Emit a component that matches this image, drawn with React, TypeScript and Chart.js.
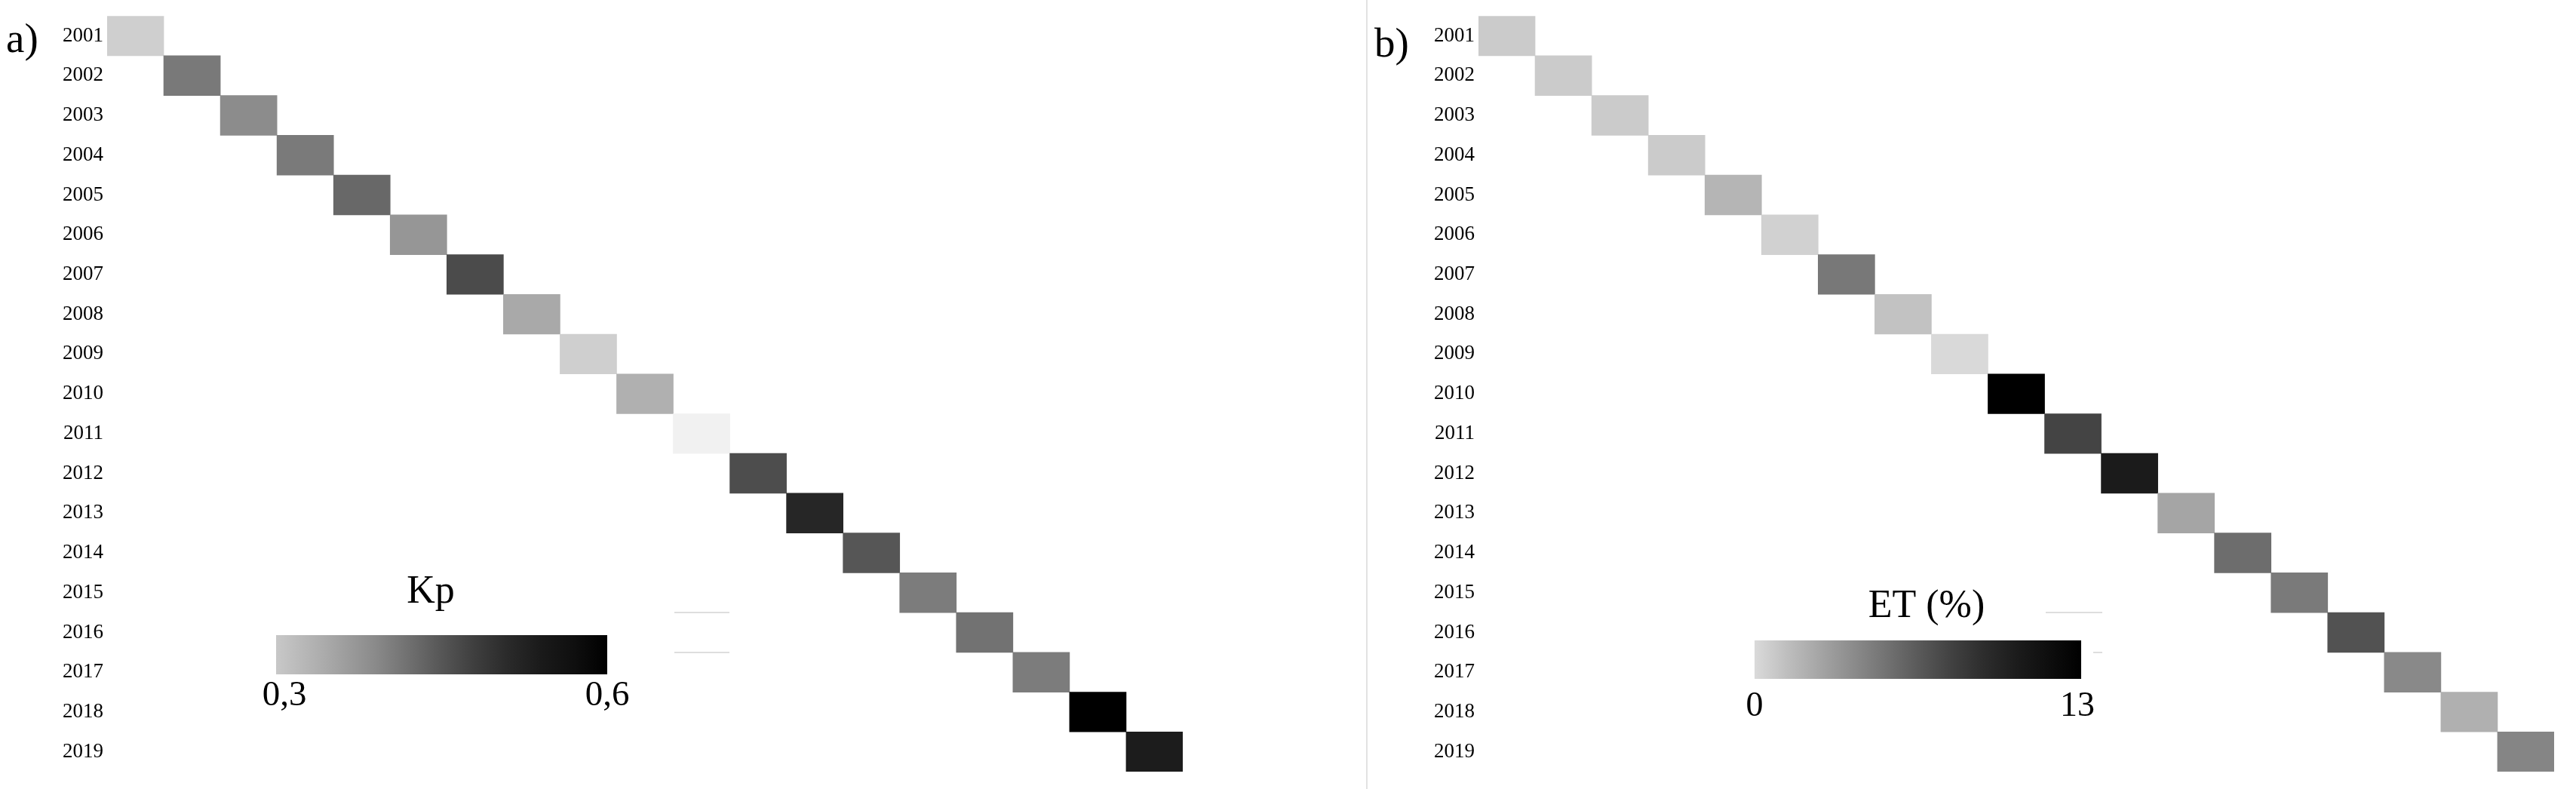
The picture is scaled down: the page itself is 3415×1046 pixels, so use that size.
import React, { useEffect, useRef } from "react";
import { Chart, registerables } from "chart.js";

Chart.register(...registerables);

// ---------------- data ----------------
const years = [
  "2001", "2002", "2003", "2004", "2005", "2006", "2007", "2008", "2009", "2010",
  "2011", "2012", "2013", "2014", "2015", "2016", "2017", "2018", "2019",
];

// Kp per year (panel a)
const kpValues = [
  0.29, 0.41, 0.387, 0.409, 0.429, 0.373, 0.464, 0.346, 0.29, 0.336,
  0.239, 0.461, 0.518, 0.45, 0.406, 0.418, 0.406, 0.6, 0.536,
];

// ET (%) per year (panel b)
const etValues = [
  0.7, 0.7, 0.7, 0.7, 1.77, 0.42, 4.94, 1.11, 0.05, 13,
  7.69, 10.5, 2.6, 5.51, 4.84, 6.93, 4.06, 2.03, 4.26,
];

const kpRange = [0.3, 0.6];
const etRange = [0, 13];
const kpTickLabels = ["0,3", "0,6"];
const etTickLabels = ["0", "13"];

// grey colour maps: [position 0..1, grey level]
const kpStops: [number, number][] = [
  [0, 200], [0.15, 170], [0.3, 138], [0.4, 112], [0.5, 86],
  [0.6, 62], [0.7, 42], [0.8, 26], [0.9, 15], [1, 0],
];
const etStops: [number, number][] = [
  [0, 218], [0.1, 190], [0.2, 165], [0.3, 140], [0.4, 115], [0.5, 90],
  [0.6, 66], [0.7, 45], [0.8, 28], [0.9, 14], [1, 0],
];

// ---------------- helpers ----------------
function greyAt(t: number, stops: [number, number][]): number {
  let g: number;
  if (t <= stops[0][0]) {
    const [t0, g0] = stops[0];
    const [t1, g1] = stops[1];
    g = g0 + ((t - t0) * (g1 - g0)) / (t1 - t0);
  } else if (t >= stops[stops.length - 1][0]) {
    g = stops[stops.length - 1][1];
  } else {
    g = stops[0][1];
    for (let i = 0; i < stops.length - 1; i++) {
      const [t0, g0] = stops[i];
      const [t1, g1] = stops[i + 1];
      if (t >= t0 && t <= t1) {
        g = g0 + ((t - t0) * (g1 - g0)) / (t1 - t0);
        break;
      }
    }
  }
  g = Math.round(Math.max(0, Math.min(255, g)));
  return g;
}
function greyCss(g: number) {
  return `rgb(${g},${g},${g})`;
}

const SERIF = "'Liberation Serif', 'Times New Roman', serif";

type PanelSpec = {
  canvasLeft: number;
  canvasWidth: number;
  axisWidth: number;
  padRight: number;
  values: number[];
  range: number[];
  stops: [number, number][];
  tickLabels: string[];
  panelLabel: string;
  panelLabelX: number;
  panelLabelY: number;
  title: string;
  titleX: number;
  titleY: number;
  bar: { x0: number; x1: number; y0: number; y1: number };
  tickXs: number[];
  tickY: number;
  tickFont: number;
  faint: { x0: number; x1: number; y: number }[];
};

const H = 1046;

const panels: PanelSpec[] = [
  {
    canvasLeft: 0,
    canvasWidth: 1800,
    axisWidth: 142,
    padRight: 1800 - 1568,
    values: kpValues,
    range: kpRange,
    stops: kpStops,
    tickLabels: kpTickLabels,
    panelLabel: "a)",
    panelLabelX: 8,
    panelLabelY: 69,
    title: "Kp",
    titleX: 571,
    titleY: 799,
    bar: { x0: 366, x1: 805, y0: 842, y1: 894 },
    tickXs: [377, 805],
    tickY: 935,
    tickFont: 47,
    faint: [
      { x0: 894, x1: 967, y: 812 },
      { x0: 894, x1: 967, y: 865 },
    ],
  },
  {
    canvasLeft: 1813,
    canvasWidth: 3415 - 1813,
    axisWidth: 147,
    padRight: 3415 - 3386,
    values: etValues,
    range: etRange,
    stops: etStops,
    tickLabels: etTickLabels,
    panelLabel: "b)",
    panelLabelX: 9,
    panelLabelY: 75,
    title: "ET (%)",
    titleX: 741,
    titleY: 818,
    bar: { x0: 513, x1: 946, y0: 849, y1: 900 },
    tickXs: [513, 941],
    tickY: 949,
    tickFont: 46,
    faint: [
      { x0: 899, x1: 974, y: 812 },
      { x0: 962, x1: 974, y: 865 },
    ],
  },
];

function Panel({ spec }: { spec: PanelSpec }) {
  const ref = useRef<HTMLCanvasElement | null>(null);

  useEffect(() => {
    if (!ref.current) return;
    const [vmin, vmax] = spec.range;
    const colors = spec.values.map((v) =>
      greyCss(greyAt((v - vmin) / (vmax - vmin), spec.stops))
    );

    const decor = {
      id: "decor",
      afterDraw(chart: any) {
        const ctx: CanvasRenderingContext2D = chart.ctx;
        ctx.save();
        ctx.fillStyle = "#000";
        ctx.textBaseline = "alphabetic";

        // panel label
        ctx.font = `55px ${SERIF}`;
        ctx.textAlign = "left";
        ctx.fillText(spec.panelLabel, spec.panelLabelX, spec.panelLabelY);

        // colour bar
        const { x0, x1, y0, y1 } = spec.bar;
        const grad = ctx.createLinearGradient(x0, 0, x1, 0);
        spec.stops.forEach(([t, g]) => grad.addColorStop(t, greyCss(g)));
        ctx.fillStyle = grad;
        ctx.fillRect(x0, y0, x1 - x0, y1 - y0);

        // title
        ctx.fillStyle = "#000";
        ctx.font = `52px ${SERIF}`;
        ctx.textAlign = "center";
        ctx.fillText(spec.title, spec.titleX, spec.titleY);

        // ticks
        ctx.font = `${spec.tickFont}px ${SERIF}`;
        spec.tickLabels.forEach((lab, i) => {
          ctx.fillText(lab, spec.tickXs[i], spec.tickY);
        });

        // faint scan lines
        ctx.strokeStyle = "#dedede";
        ctx.lineWidth = 2;
        spec.faint.forEach((f) => {
          ctx.beginPath();
          ctx.moveTo(f.x0, f.y);
          ctx.lineTo(f.x1, f.y);
          ctx.stroke();
        });
        ctx.restore();
      },
    };

    const chart = new Chart(ref.current, {
      type: "bar",
      data: {
        labels: years,
        datasets: [
          {
            data: years.map((_, i) => [i, i + 1]) as any,
            backgroundColor: colors,
            borderWidth: 0,
            barPercentage: 1,
            categoryPercentage: 1,
          },
        ],
      },
      options: {
        indexAxis: "y",
        responsive: false,
        animation: false,
        layout: { padding: { left: 0, right: spec.padRight, top: 17, bottom: 23 } },
        plugins: {
          legend: { display: false },
          tooltip: { enabled: false },
        },
        scales: {
          x: {
            type: "linear",
            min: 0,
            max: years.length,
            display: false,
          },
          y: {
            type: "category",
            grid: { display: false, drawTicks: false },
            border: { display: false },
            ticks: {
              autoSkip: false,
              padding: 5,
              color: "#000",
              font: { family: SERIF, size: 27 },
            },
            afterFit: (scale: any) => {
              scale.width = spec.axisWidth;
            },
          },
        },
      },
      plugins: [decor],
    } as any);

    return () => chart.destroy();
  }, [spec]);

  return (
    <canvas
      ref={ref}
      width={spec.canvasWidth}
      height={H}
      style={{
        position: "absolute",
        left: spec.canvasLeft,
        top: 0,
        width: spec.canvasWidth,
        height: H,
      }}
    />
  );
}

export default function App() {
  return (
    <div style={{ position: "relative", width: 3415, height: H, background: "#fff", overflow: "hidden" }}>
      <style>{`body{margin:0;background:#fff;}`}</style>
      <Panel spec={panels[0]} />
      <div
        style={{
          position: "absolute",
          left: 1811,
          top: 0,
          width: 2,
          height: H,
          background: "#e2e2e2",
        }}
      />
      <Panel spec={panels[1]} />
    </div>
  );
}
